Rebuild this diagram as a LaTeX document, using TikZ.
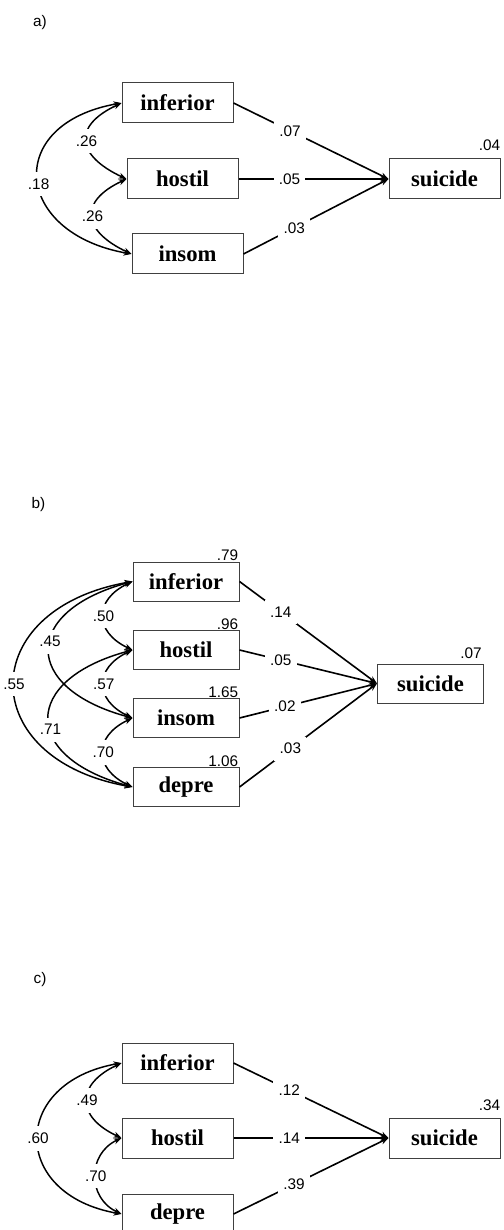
\documentclass[tikz,border=0pt]{standalone}
\usepackage{fontspec}
\setmainfont{Liberation Serif}
\setsansfont{Liberation Sans}
\usetikzlibrary{arrows.meta}
\tikzset{
  var/.style={draw=black!75, line width=0.75pt, minimum width=83.25pt, minimum height=30pt, inner sep=0pt, font=\fontsize{17}{17}\selectfont\bfseries},
  varb/.style={var, minimum width=79.5pt, minimum height=29.25pt},
  coef/.style={fill=white, inner xsep=4pt, inner ysep=5pt, font=\sffamily\fontsize{11.5}{12}\selectfont},
  reg/.style={line width=1.2pt, -{Stealth[length=6pt,width=4.5pt]}},
  cov/.style={line width=1.1pt, {Stealth[length=6pt,width=4.5pt]}-{Stealth[length=6pt,width=4.5pt]}},
  resid/.style={font=\sffamily\fontsize{11.5}{12}\selectfont, inner sep=0pt, anchor=base east},
  panel/.style={font=\sffamily\fontsize{11.5}{12}\selectfont, inner sep=0pt},
}
\begin{document}
\begin{tikzpicture}[x=0.75pt,y=0.75pt]
\useasboundingbox (0,0) rectangle (503,-1230);
% ---------- a)
\node[panel] (la) at (40,-23) {a)};
\node[var] (ainf) at (177.5,-103) {inferior};
\node[var] (ahos) at (182.5,-179) {hostil};
\node[var] (ains) at (187.5,-254) {insom};
\node[var] (asui) at (444.5,-179) {suicide};
\node[resid] (rasui) at ([yshift=6pt]asui.north east) {.04};
\draw[reg] (ainf.east) -- node[coef,pos=0.365] (a1) {.07} (asui.west);
\draw[reg] (ahos.east) -- node[coef,pos=0.34] (a2) {.05} (asui.west);
\draw[reg] (ains.east) -- node[coef,pos=0.35] (a3) {.03} (asui.west);
\draw[cov] (ainf.west) to[out=205,in=155,looseness=1.85] node[coef] (a4) {.26} (ahos.west);
\draw[cov] (ahos.west) to[out=205,in=155,looseness=1.83] node[coef] (a5) {.26} (ains.west);
\draw[cov] (ainf.west) to[out=190,in=170,looseness=2.03] node[coef,pos=0.53] (a6) {.18} (ains.west);
% ---------- b)
\node[panel] (lb) at (38.5,-505) {b)};
\node[varb] (binf) at (186,-581.5) {inferior};
\node[varb] (bhos) at (186,-650) {hostil};
\node[varb] (bins) at (186,-718) {insom};
\node[varb] (bdep) at (186,-787) {depre};
\node[varb] (bsui) at (430.5,-683.5) {suicide};
\node[resid] (rbinf) at ([xshift=-0.75pt,yshift=0.75pt]binf.north east) {.79};
\node[resid] (rbhos) at ([xshift=-0.75pt,yshift=0.75pt]bhos.north east) {.96};
\node[resid] (rbins) at ([xshift=-0.75pt,yshift=0.75pt]bins.north east) {1.65};
\node[resid] (rbdep) at ([xshift=-0.75pt,yshift=0.75pt]bdep.north east) {1.06};
\node[resid] (rbsui) at ([xshift=-1.5pt,yshift=3.75pt]bsui.north east) {.07};
\draw[reg] (binf.east) -- node[coef,pos=0.30] (b1) {.14} (bsui.west);
\draw[reg] (bhos.east) -- node[coef,pos=0.30] (b2) {.05} (bsui.west);
\draw[reg] (bins.east) -- node[coef,pos=0.33] (b3) {.02} (bsui.west);
\draw[reg] (bdep.east) -- node[coef,pos=0.37] (b4) {.03} (bsui.west);
\draw[cov] (binf.west) to[out=205,in=155,looseness=1.6] node[coef] (b5) {.50} (bhos.west);
\draw[cov] (bhos.west) to[out=205,in=155,looseness=1.6] node[coef] (b6) {.57} (bins.west);
\draw[cov] (bins.west) to[out=205,in=155,looseness=1.6] node[coef] (b7) {.70} (bdep.west);
\draw[cov] (binf.west) to[out=195,in=165,looseness=2.16] node[coef,pos=0.45] (b8) {.45} (bins.west);
\draw[cov] (bhos.west) to[out=195,in=165,looseness=2.16] node[coef,pos=0.57] (b9) {.71} (bdep.west);
\draw[cov] (binf.west) to[out=190,in=170,looseness=2.0] node[coef] (b10) {.55} (bdep.west);
% ---------- c)
\node[panel] (lc) at (40,-980) {c)};
\node[var] (cinf) at (177.5,-1063) {inferior};
\node[var] (chos) at (177.5,-1138) {hostil};
\node[var] (cdep) at (177.5,-1214) {depre};
\node[var] (csui) at (444.5,-1138) {suicide};
\node[resid] (rcsui) at ([yshift=5.25pt]csui.north east) {.34};
\draw[reg] (cinf.east) -- node[coef,pos=0.36] (c1) {.12} (csui.west);
\draw[reg] (chos.east) -- node[coef,pos=0.36] (c2) {.14} (csui.west);
\draw[reg] (cdep.east) -- node[coef,pos=0.39] (c3) {.39} (csui.west);
\draw[cov] (cinf.west) to[out=205,in=155,looseness=1.73] node[coef] (c4) {.49} (chos.west);
\draw[cov] (chos.west) to[out=205,in=155,looseness=1.28] node[coef] (c5) {.70} (cdep.west);
\draw[cov] (cinf.west) to[out=190,in=170,looseness=1.92] node[coef] (c6) {.60} (cdep.west);
\end{tikzpicture}
\end{document}
